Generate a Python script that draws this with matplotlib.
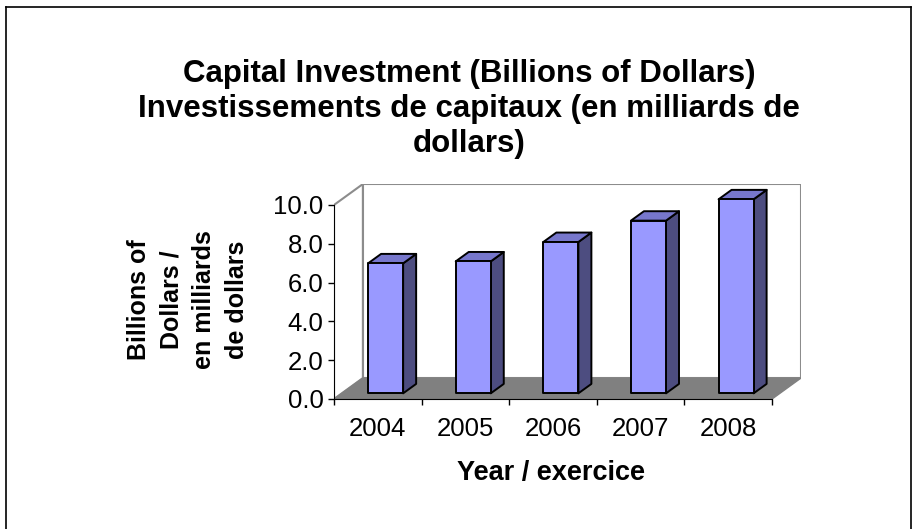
import matplotlib
matplotlib.use("Agg")
import matplotlib.pyplot as plt
from matplotlib.patches import Polygon
from matplotlib.lines import Line2D

plt.rcParams['font.family'] = ['Liberation Sans', 'DejaVu Sans']

# data
years = ['2004', '2005', '2006', '2007', '2008']
values = [6.7, 6.8, 7.8, 8.9, 10.0]
y_ticks = [0, 2, 4, 6, 8, 10]

title = ('Capital Investment (Billions of Dollars)\n'
         'Investissements de capitaux (en milliards de\n'
         'dollars)')
y_label = 'Billions of\nDollars /\nen milliards\nde dollars'
x_label = 'Year / exercice'

# fake 3D look (oblique projection)
ddx, ddy = 0.33, 1.08      # depth vector of the floor, in data units
f_front, f_back = 0.27, 0.72
bar_w = 0.4
front_col = '#9999ff'
top_col = '#7777cc'
side_col = '#4d4d80'
wall_edge = '#8c8c8c'

fig = plt.figure(figsize=(9.17, 5.29), dpi=100)
ax = fig.add_axes([334 / 917, (529 - 399) / 529, (801 - 334) / 917, (399 - 184) / 529])
n = len(years)
ymax = y_ticks[-1]
ax.set_xlim(0, n + ddx)
ax.set_ylim(0, ymax + ddy)

# left side wall, back wall and floor
ax.add_patch(Polygon([(0, 0), (0, ymax), (ddx, ymax + ddy), (ddx, ddy)],
                     closed=True, fc='white', ec=wall_edge, lw=1.5, zorder=1))
ax.add_patch(Polygon([(ddx, ddy), (ddx, ymax + ddy), (n + ddx, ymax + ddy), (n + ddx, ddy)],
                     closed=True, fc='white', ec=wall_edge, lw=1.5, zorder=1))
ax.add_patch(Polygon([(0, 0), (n, 0), (n + ddx, ddy), (ddx, ddy)],
                     closed=True, fc='#808080', ec='#808080', lw=1, zorder=2))

a, b = f_front * ddx, f_front * ddy
c, d = f_back * ddx, f_back * ddy
for i, v in enumerate(values):
    x0 = i + (1 - bar_w) / 2
    x1 = x0 + bar_w
    front = [(x0 + a, b), (x1 + a, b), (x1 + a, v + b), (x0 + a, v + b)]
    top = [(x0 + a, v + b), (x1 + a, v + b), (x1 + c, v + d), (x0 + c, v + d)]
    side = [(x1 + a, b), (x1 + c, d), (x1 + c, v + d), (x1 + a, v + b)]
    for pts, col in [(side, side_col), (top, top_col), (front, front_col)]:
        ax.add_patch(Polygon(pts, closed=True, fc=col, ec='black', lw=1.4,
                             joinstyle='round', zorder=3))

# axes
for s in ['top', 'right']:
    ax.spines[s].set_visible(False)
ax.spines['left'].set_bounds(0, ymax)
ax.spines['bottom'].set_bounds(0, n)
ax.spines['left'].set_zorder(5)
ax.spines['bottom'].set_zorder(5)
ax.set_yticks(y_ticks)
ax.set_yticklabels(['%.1f' % t for t in y_ticks])
ax.set_xticks(range(n + 1))
ax.set_xticklabels([])
ax.set_xticks([i + 0.5 for i in range(n)], minor=True)
ax.set_xticklabels(years, minor=True)
ax.tick_params(axis='y', length=4.5, width=1, pad=3, labelsize=18.5)
ax.tick_params(axis='x', which='major', length=4.5, width=1, color='black')
ax.tick_params(axis='x', which='minor', length=0, pad=13, labelsize=18.5)
ax.set_facecolor('none')

fig.text(469 / 917, 1 - 109 / 529, title, ha='center', va='center',
         fontsize=22.5, fontweight='bold', linespacing=1.22)
fig.text(188 / 917, 1 - 300 / 529, y_label, ha='center', va='center',
         rotation=90, fontsize=18, fontweight='bold', linespacing=1.45)
fig.text(551 / 917, 1 - 473 / 529, x_label, ha='center', va='center',
         fontsize=19.5, fontweight='bold')

# outer frame of the chart area (no bottom edge visible)
fx0, fx1, fy1 = 6 / 917, 911 / 917, 1 - 7 / 529
for xs, ys in [([fx0, fx0], [0, fy1]), ([fx0, fx1], [fy1, fy1]), ([fx1, fx1], [fy1, 0])]:
    fig.add_artist(Line2D(xs, ys, color='black', lw=1.2))

fig.savefig('out.png', dpi=100)
